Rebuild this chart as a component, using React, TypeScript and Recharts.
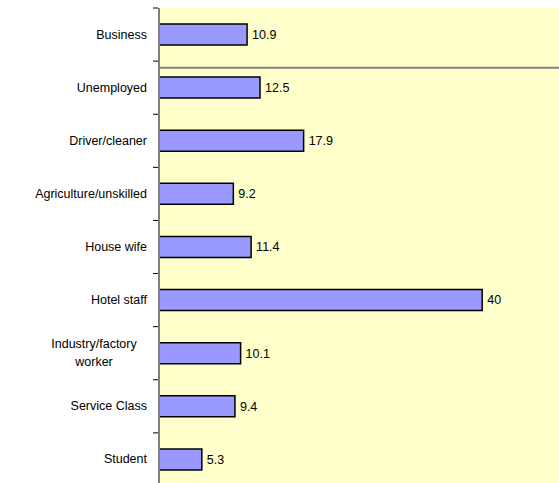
import { BarChart, Bar, XAxis, YAxis, CartesianGrid, ReferenceLine, LabelList } from 'recharts';

const categories = [
  'Business',
  'Unemployed',
  'Driver/cleaner',
  'Agriculture/unskilled',
  'House wife',
  'Hotel staff',
  'Industry/factory\nworker',
  'Service Class',
  'Student',
];
const values = [10.9, 12.5, 17.9, 9.2, 11.4, 40, 10.1, 9.4, 5.3];

const data = categories.map((name, i) => ({ name, value: values[i] }));

const FONT = '"Liberation Sans", Arial, sans-serif';
const BAND = 478 / categories.length;

function CategoryTick({ x, y, payload }: any) {
  const lines = String(payload.value).split('\n');
  const top = y - BAND / 2;
  const textX = x - 4;
  return (
    <g>
      <line x1={x + 2} x2={x + 7} y1={top} y2={top} stroke="#000" strokeWidth={1} />
      {lines.length === 1 ? (
        <text x={textX} y={y} dy={4} textAnchor="end" fontSize={12.5} fill="#000" fontFamily={FONT}>
          {lines[0]}
        </text>
      ) : (
        <text x={textX - 53} y={y} textAnchor="middle" fontSize={12.5} fill="#000" fontFamily={FONT}>
          {lines.map((l, i) => (
            <tspan key={i} x={textX - 53} dy={i === 0 ? -5 : 18}>
              {l}
            </tspan>
          ))}
        </text>
      )}
    </g>
  );
}

export default function App() {
  return (
    <div style={{ position: 'absolute', left: 0, top: 0, width: 559, height: 483, overflow: 'hidden', background: '#fff' }}>
      <BarChart
        width={565}
        height={490}
        data={data}
        layout="vertical"
        margin={{ top: 8, right: 2, left: 0, bottom: 4 }}
        barCategoryGap={0}
      >
        <CartesianGrid horizontal={false} vertical={false} fill="#FFFFCC" />
        <XAxis type="number" domain={[0, 50]} hide />
        <YAxis
          type="category"
          dataKey="name"
          width={159}
          interval={0}
          tickLine={false}
          tick={<CategoryTick />}
          axisLine={{ stroke: '#808080', strokeWidth: 2 }}
        />
        <YAxis yAxisId="frame" type="number" domain={[0, 1]} hide />
        <ReferenceLine yAxisId="frame" y={1} stroke="#808080" strokeWidth={2} />
        <Bar dataKey="value" fill="#9999FF" stroke="#000" strokeWidth={1.5} barSize={21} isAnimationActive={false}>
          <LabelList dataKey="value" position="right" offset={5} fill="#000" fontSize={12.5} fontFamily={FONT} />
        </Bar>
      </BarChart>
    </div>
  );
}
